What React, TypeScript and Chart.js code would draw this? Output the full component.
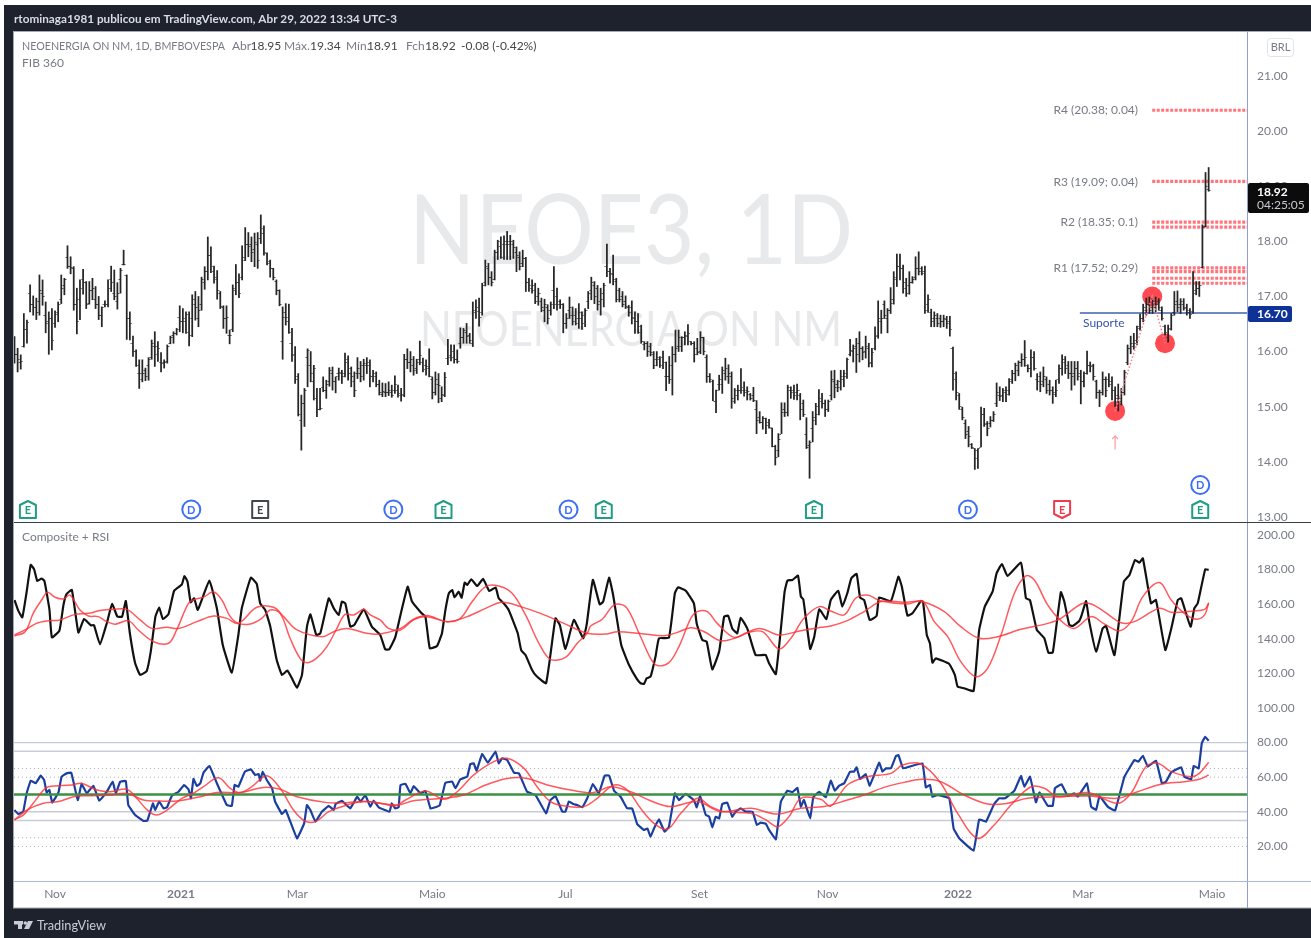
import React, { useEffect, useRef } from "react";
import { Chart, registerables } from "chart.js";

Chart.register(...registerables);

const barHigh = [
16.27,16.06,15.94,16.69,16.57,17.21,17.01,16.97,17.39,17.30,
16.90,16.72,16.78,16.74,16.90,17.39,17.33,17.92,17.72,17.54,
17.15,17.30,17.49,17.27,17.27,17.33,17.18,17.00,16.81,16.92,
17.30,17.55,17.48,17.25,17.51,17.84,17.39,16.72,16.28,16.03,
15.85,15.85,15.70,15.89,16.21,16.36,16.18,15.98,15.85,16.12,
16.28,16.36,16.42,16.83,16.78,16.72,16.72,17.03,17.09,17.00,
17.35,17.54,18.08,17.90,17.55,17.47,17.09,16.83,16.83,16.39,
17.21,17.58,17.41,17.92,18.25,18.16,18.08,18.15,18.16,18.48,
18.28,17.79,17.66,17.51,17.30,17.12,16.81,16.87,16.86,16.42,
16.09,15.60,15.21,15.33,16.05,16.00,15.75,15.33,15.33,15.54,
15.48,15.71,15.72,15.54,15.70,15.66,15.97,15.92,15.72,15.63,
15.89,15.82,15.86,15.89,15.85,15.66,15.63,15.48,15.43,15.42,
15.45,15.39,15.56,15.39,15.33,15.95,16.05,16.00,15.91,15.86,
16.19,15.88,15.85,16.05,15.54,15.63,15.60,15.36,15.62,16.22,
16.12,16.12,16.03,16.43,16.42,16.51,16.33,16.90,16.94,16.97,
17.24,17.66,17.60,17.45,17.84,18.02,18.08,18.10,18.18,18.11,
18.02,17.90,17.81,17.84,17.71,17.33,17.30,17.24,17.15,16.97,
16.95,16.85,16.90,17.54,17.15,16.94,16.87,16.69,16.99,16.81,
16.78,16.87,16.72,16.78,17.09,17.35,17.27,17.20,17.15,17.24,
17.95,17.51,17.75,17.33,17.15,17.09,17.01,16.84,
16.92,16.72,16.69,16.48,16.18,16.18,16.15,16.00,16.00,15.91,
16.01,15.81,15.91,16.09,16.39,16.39,16.27,16.36,16.49,16.18,
16.18,16.24,16.36,16.26,15.94,15.60,15.48,15.30,15.57,15.72,
15.88,15.76,15.63,15.33,15.39,15.69,15.45,15.36,15.24,15.35,
15.11,14.91,14.82,14.79,14.77,14.61,14.30,14.51,15.07,15.07,
15.39,15.36,15.39,15.41,15.24,15.12,14.80,14.38,14.91,15.06,
15.31,15.24,15.12,15.12,15.65,15.66,15.48,15.66,15.66,15.88,
16.22,16.12,16.24,16.36,16.09,16.28,16.15,16.06,16.45,16.92,
16.75,16.92,16.78,17.16,17.45,17.77,17.77,17.57,17.33,17.45,
17.36,17.72,17.81,17.54,17.55,17.03,16.77,16.72,16.69,
16.66,16.66,16.64,16.64,16.08,15.63,15.24,14.99,14.76,14.64,
14.33,14.24,14.24,14.99,14.97,14.73,14.82,14.91,15.43,15.36,
15.33,15.36,15.51,15.66,15.79,15.83,15.96,16.20,15.76,16.03,
16.00,15.60,15.63,15.72,15.54,15.48,15.36,15.48,15.76,15.94,
15.91,15.82,15.82,15.82,15.82,15.66,15.63,16.01,15.81,15.77,
15.48,15.30,15.63,15.54,15.60,15.54,15.36,15.41,15.33,15.66,
16.12,16.28,16.33,16.46,16.68,16.86,16.97,16.99,16.96,16.99,
16.96,16.81,16.48,16.48,16.69,17.09,17.10,16.96,16.96,16.86,
16.78,17.45,17.27,17.27,18.30,19.25,19.34,
];

const barLow = [
15.79,15.63,15.68,16.08,16.15,16.72,16.66,16.58,16.66,16.84,
16.34,15.95,16.03,16.44,16.54,16.87,17.03,17.51,17.41,16.75,
16.32,16.58,17.04,16.78,16.86,16.94,16.78,16.58,16.45,16.81,
16.81,17.09,16.94,16.77,17.06,17.57,16.22,16.21,15.91,15.73,
15.33,15.45,15.47,15.48,15.86,15.73,15.82,15.63,15.70,15.79,
16.14,16.15,16.30,16.36,16.34,16.33,16.10,16.27,16.57,16.45,
16.75,17.13,17.30,17.43,17.24,16.95,16.78,16.42,16.33,16.14,
16.36,17.03,16.98,17.30,17.65,17.72,17.63,17.54,17.51,17.96,
17.75,17.57,17.35,17.30,17.03,16.83,15.86,16.48,16.33,15.82,
15.42,14.83,14.21,14.64,15.36,15.45,15.12,14.82,14.94,15.27,
15.15,15.37,15.30,15.25,15.48,15.42,15.54,15.48,15.36,15.18,
15.51,15.45,15.48,15.60,15.36,15.45,15.36,15.21,15.18,15.18,
15.20,15.17,15.24,15.17,15.10,15.18,15.69,15.63,15.57,15.60,
15.76,15.63,15.57,15.54,15.14,15.21,15.07,15.09,15.18,15.76,
15.83,15.79,15.79,16.06,16.15,16.15,16.15,16.09,16.60,16.46,
16.66,17.19,17.21,17.19,17.30,17.67,17.69,17.67,17.67,17.67,
17.69,17.45,17.48,17.54,17.09,17.09,17.06,16.87,16.84,16.72,
16.54,16.50,16.66,16.78,16.75,16.78,16.34,16.42,16.60,16.48,
16.48,16.42,16.40,16.45,16.78,16.94,16.87,16.75,16.66,16.81,
17.36,17.24,17.21,16.90,16.90,16.81,16.78,16.64,
16.50,16.33,16.33,16.15,16.03,15.91,15.92,15.69,15.74,15.71,
15.69,15.29,15.42,15.21,15.81,16.00,16.00,16.12,16.12,16.12,
15.81,15.94,15.96,15.94,15.44,15.44,15.11,14.89,15.30,15.24,
15.48,15.42,14.97,15.06,15.12,15.24,15.19,15.12,15.12,15.09,
14.51,14.70,14.59,14.51,14.61,14.27,13.94,14.09,14.51,14.82,
14.83,15.15,15.13,15.12,14.76,14.82,14.24,13.70,14.36,14.67,
14.85,14.97,14.82,14.91,15.12,15.16,15.27,15.30,15.36,15.51,
15.92,15.81,15.62,15.81,15.85,15.88,15.72,15.72,16.03,16.24,
16.33,16.60,16.34,16.69,16.86,17.18,17.30,17.06,17.00,17.04,
17.24,17.30,17.39,17.39,16.69,16.71,16.45,16.45,16.45,
16.44,16.45,16.42,16.28,15.30,15.12,14.95,14.76,14.42,14.27,
14.24,13.86,13.88,14.27,14.64,14.47,14.63,14.73,15.00,15.11,
15.09,15.09,15.21,15.42,15.47,15.56,15.73,15.73,15.63,15.54,
15.66,15.30,15.27,15.36,15.24,15.21,15.06,15.18,15.42,15.57,
15.60,15.51,15.30,15.39,15.48,15.05,15.36,15.59,15.63,15.48,
15.15,15.00,15.21,15.18,15.36,15.12,15.00,14.92,15.03,15.21,
15.76,15.96,16.04,16.12,16.39,16.54,16.66,16.69,16.69,16.72,
16.75,16.57,16.30,16.17,16.39,16.66,16.72,16.69,16.75,16.66,
16.60,16.69,17.03,17.00,17.52,18.26,18.91,
];

const barOpen = [
16.00,15.95,15.80,16.10,16.40,17.05,16.85,16.80,16.90,17.05,
16.65,16.55,16.60,16.50,16.70,16.95,17.20,17.70,17.55,17.50,
16.85,16.95,17.30,17.25,16.87,17.10,16.95,16.85,16.65,16.85,
16.85,17.30,17.05,16.90,17.30,17.58,17.38,16.60,16.15,16.00,
15.60,15.50,15.65,15.75,15.90,16.10,16.10,15.80,15.80,15.82,
16.15,16.30,16.32,16.62,16.55,16.55,16.35,16.60,16.85,16.60,
16.85,17.25,17.45,17.75,17.45,17.30,17.05,16.80,16.60,16.30,
16.40,17.10,17.25,17.35,17.65,17.95,17.95,17.85,17.95,18.05,
18.15,17.78,17.64,17.50,17.28,17.10,16.18,16.70,16.55,16.15,
15.95,15.55,14.75,15.05,15.90,15.75,15.45,15.15,14.95,15.35,
15.30,15.45,15.60,15.45,15.60,15.60,15.60,15.85,15.70,15.45,
15.60,15.60,15.75,15.75,15.75,15.55,15.55,15.40,15.22,15.25,
15.25,15.25,15.30,15.30,15.20,15.20,15.85,15.80,15.75,15.70,
15.85,15.80,15.75,15.70,15.50,15.25,15.40,15.15,15.20,15.88,
15.92,16.00,15.85,16.15,16.25,16.35,16.30,16.15,16.70,16.72,
16.70,17.25,17.50,17.35,17.30,17.80,17.90,17.95,17.95,18.00,
17.95,17.80,17.70,17.60,17.68,17.25,17.15,17.10,17.00,16.90,
16.75,16.80,16.75,17.10,17.00,16.90,16.85,16.50,16.75,16.65,
16.65,16.60,16.60,16.65,16.90,17.10,17.20,17.15,16.90,17.05,
17.55,17.45,17.40,17.28,17.10,17.00,16.90,16.80,
16.80,16.60,16.55,16.45,16.12,16.15,16.10,15.95,15.85,15.85,
15.90,15.55,15.55,15.75,15.95,16.10,16.10,16.25,16.28,16.18,
16.15,16.05,16.00,16.25,15.90,15.55,15.45,15.10,15.40,15.40,
15.60,15.55,15.55,15.10,15.20,15.30,15.30,15.30,15.22,15.20,
14.95,14.80,14.72,14.78,14.72,14.60,14.28,14.20,14.50,14.95,
14.90,15.30,15.30,15.25,15.20,15.05,14.50,14.30,14.60,14.80,
15.00,15.10,15.05,14.95,15.20,15.45,15.40,15.45,15.50,15.55,
15.95,16.00,16.10,16.15,16.05,16.00,16.05,15.80,16.05,16.30,
16.55,16.85,16.60,16.75,16.95,17.30,17.55,17.50,17.15,17.20,
17.25,17.35,17.50,17.50,17.45,16.85,16.70,16.60,16.60,
16.60,16.55,16.58,16.55,16.05,15.50,15.20,14.95,14.70,14.55,
14.32,14.24,14.20,14.25,14.85,14.70,14.70,14.75,15.05,15.20,
15.20,15.25,15.30,15.50,15.60,15.65,15.80,15.85,15.75,15.70,
15.90,15.50,15.55,15.45,15.50,15.40,15.30,15.22,15.50,15.70,
15.80,15.75,15.60,15.60,15.70,15.60,15.45,15.60,15.75,15.75,
15.45,15.25,15.25,15.50,15.50,15.45,15.30,15.20,15.10,15.25,
15.80,16.05,16.10,16.20,16.42,16.60,16.75,16.85,16.80,16.80,
16.90,16.75,16.45,16.25,16.40,16.70,16.90,16.85,16.85,16.80,
16.70,16.72,17.10,17.15,17.52,18.27,18.95,
];

const barClose = [
15.95,15.85,15.82,16.40,16.52,16.85,16.80,16.70,17.10,17.00,
16.50,16.60,16.20,16.68,16.85,17.15,17.30,17.55,17.52,16.85,
16.55,17.15,17.25,16.85,17.10,17.15,16.85,16.65,16.80,16.85,
17.15,17.25,17.00,17.05,17.48,17.58,16.60,16.50,16.00,15.75,
15.60,15.60,15.55,15.85,16.15,15.95,16.05,15.78,15.80,16.10,
16.25,16.32,16.40,16.55,16.60,16.68,16.30,16.95,16.80,16.75,
17.30,17.45,17.75,17.55,17.35,17.10,16.82,16.60,16.62,16.30,
17.15,17.25,17.05,17.70,17.95,17.90,17.80,17.98,17.65,18.24,
17.80,17.60,17.50,17.35,17.10,16.85,16.62,16.62,16.34,15.92,
15.50,14.85,15.05,15.30,16.02,15.60,15.70,14.95,14.97,15.30,
15.40,15.65,15.45,15.55,15.62,15.55,15.80,15.60,15.55,15.30,
15.70,15.55,15.78,15.80,15.55,15.60,15.40,15.25,15.28,15.26,
15.30,15.20,15.40,15.24,15.22,15.85,15.80,15.85,15.65,15.80,
15.92,15.68,15.72,15.55,15.25,15.50,15.38,15.22,15.52,15.90,
15.90,15.85,15.82,16.25,16.38,16.28,16.20,16.75,16.80,16.62,
17.20,17.55,17.35,17.25,17.80,18.00,17.70,18.00,17.95,18.00,
17.88,17.75,17.55,17.68,17.25,17.20,17.20,16.90,17.05,16.80,
16.85,16.60,16.85,16.85,16.85,16.85,16.50,16.60,16.80,16.55,
16.50,16.70,16.50,16.75,17.05,17.25,17.00,16.85,16.95,17.20,
17.45,17.42,17.30,16.95,16.95,16.85,16.82,16.70,
16.62,16.55,16.35,16.18,16.15,16.00,15.98,15.75,15.90,15.75,
15.80,15.55,15.50,15.95,16.05,16.25,16.25,16.30,16.33,16.14,
15.95,15.98,16.25,16.00,15.55,15.50,15.10,15.30,15.50,15.65,
15.70,15.60,15.15,15.30,15.30,15.35,15.25,15.28,15.15,15.12,
14.75,14.72,14.78,14.65,14.63,14.28,14.08,14.40,14.90,14.90,
15.35,15.25,15.20,15.30,14.95,14.85,14.25,14.35,14.75,14.85,
15.15,15.05,14.95,15.10,15.50,15.35,15.35,15.55,15.60,15.85,
16.02,16.05,15.95,16.05,15.98,16.10,15.78,15.98,16.28,16.60,
16.60,16.65,16.75,16.88,17.35,17.55,17.50,17.25,17.05,17.25,
17.30,17.50,17.45,17.42,16.75,16.95,16.55,16.65,16.50,
16.55,16.60,16.50,16.40,15.60,15.25,15.00,14.80,14.50,14.45,
14.26,14.05,14.24,14.85,14.68,14.60,14.75,14.85,15.25,15.18,
15.30,15.22,15.45,15.60,15.75,15.80,15.85,15.90,15.70,15.90,
15.70,15.45,15.40,15.55,15.30,15.30,15.25,15.30,15.70,15.85,
15.70,15.60,15.55,15.70,15.55,15.45,15.60,15.75,15.72,15.55,
15.25,15.25,15.50,15.30,15.40,15.30,15.15,15.15,15.25,15.62,
16.05,16.15,16.15,16.45,16.60,16.80,16.85,16.75,16.90,16.85,
16.80,16.60,16.35,16.42,16.65,16.85,16.80,16.90,16.78,16.75,
16.68,17.05,17.15,17.20,18.25,19.00,18.92,
];

const compositeAt = [0,1.2,2.5,3.9,5.2,6.3,7.3,8.7,9.6,11.2,12,14.4,15.7,16.7,18.4,20.5,22.3,24.5,25.5,27.4,29.6,31.3,33,34.5,35.7,37,38.7,40.3,42.4,43.7,45.2,46.4,47.6,49.4,51.2,53.7,54.5,55.5,56.5,57.6,58.8,62.5,64.9,66.8,69.7,71.8,72.9,75.8,77.7,78.8,80.4,82,84.1,85.8,87.5,89,90.6,92.2,93.8,94.9,96.8,98.1,100.8,102.4,104,105,106.1,107.7,109,112,114.6,117.3,118.9,120.2,122.1,123.8,126.1,127.5,130.4,131.8,133.2,135.5,137.1,138.2,139.3,140.4,141.1,142.5,143.4,144.4,145.2,146.5,148.4,150.3,152.3,154.3,155.3,156.9,158.5,161.4,162.5,163.9,166,167.4,170.5,173.5,174.9,176.7,179.4,182.4,183.5,185.5,187.7,188.8,190.7,192,194.6,197.1,199.5,200.8,201.9,202.7,204,205.6,206.7,209.9,211.8,212.8,215.3,217.9,218.8,220.6,222,223.8,226,227.6,228.9,230.2,231.8,232.9,235,237.7,240.9,242,244.2,247,247.9,249.5,251.3,252.2,253,255.2,256.5,258.1,260.4,261.8,264.2,265.5,267.1,268.4,270.1,271.2,272.5,274.3,276.5,277.3,281.1,283.5,284.6,286.4,288,290.7,291.4,292.6,293.6,294.4,295.5,299.8,301.6,302.5,304.6,307.6,309.4,311.2,313.7,315,316.7,318.5,322.8,324.4,325.7,327.9,330.3,331.6,333,335.6,336.7,338.3,339.4,341.5,342.3,343.7,344.7,346.9,349,350.1,352.8,355.8,357.6,359.4,360.8,361.9,364.5,366.1,369.1,370.9,373.1,374.2,377.2,378.4,379.5,381.9,383];
const compositeValues = [162.4,156.3,152.4,167.2,182.7,180.1,173.4,174.8,173.4,157,140.8,144.7,159.5,165.9,168.2,143.6,151.4,147.8,147.8,136.8,149,160.1,152.8,152.8,161.8,143.2,125.8,119.1,121.4,132.6,152.8,158,151.4,154.3,167.8,171.5,176.3,173,161.1,163.4,156.7,173.6,157.6,136.4,120.4,142.2,157.6,175.3,171.7,160.5,156.7,147.4,127.7,119.1,121.6,117.1,111.7,119.1,147,154.1,142.2,143.2,163.4,157.6,153.8,161.5,160.5,147,148,157,147,142.2,133.9,133.9,140.8,153.8,170.1,161.5,155.1,152.8,134.5,135.8,143.2,156.6,166.3,168.2,164,167.2,163.8,172.5,171.1,174.4,170.5,174.6,167.6,169.7,163.4,160.5,156.6,143.2,133.5,130.6,122,118.5,114.3,151.8,148,134.1,150.9,140.3,148,174,159.9,161.5,175.3,165.3,136.4,124.8,117.1,114.3,113.9,117.1,118.1,129.7,140.3,140.6,166.3,169.7,167.8,160.5,148.9,139.3,138.3,122.3,132.6,152.8,153.3,146,143.2,152.2,146,130.6,130.6,125.8,119.6,167.2,173.6,174,176.5,164.4,162.8,134.1,141.2,157,151.4,162.4,167.8,158.6,166.3,175,177.5,163.8,162.4,150.9,153.2,163.8,161.8,175.9,170.1,153.4,154.7,161.8,161.4,142.2,137.4,126.2,128.7,125.4,119.1,112.3,111.4,109.8,145.1,158.6,167.2,177.9,183.2,176.3,184,163.4,162.4,145.1,140.3,132,132,166.9,161.5,148,147.4,150.3,153.8,161.8,149.9,132.6,146,147.4,130.6,173,176.9,185.6,184,186.5,160.5,162.4,133.5,145.1,162.4,163.4,147,157.6,160.5,180.2,179.8];

const compositeFastAt = [0,3.4,6,8.7,10.6,13,15.7,17.8,21,23.7,26.9,29.6,32.3,36.5,39.7,44.6,49.4,52,55.8,57.9,60.6,63.8,66.5,69.2,71.8,75.6,79.3,82,85.2,88.4,91.6,93.8,96.8,100.2,103.4,106,108.8,112,114.1,117.3,120,123.8,128,132.3,138.8,143,146.8,151.1,155.3,159.6,163.9,168.2,171.9,176.7,180.5,183.7,184.8,188.5,192.3,196,200.3,204,206.2,209.9,213.1,216.9,219,222.2,225.4,230.8,235,239.9,245.2,249,253.2,258.1,261.8,266.1,269.8,273.6,277.9,286.4,291.2,295,299.3,303.5,308.3,312.1,316.4,320.7,324.4,327.1,331.4,335.6,339.9,345.3,349.5,354.4,358.1,361.9,367.2,371,375.2,379,381.7,383];
const compositeFastValues = [141.6,144.1,154.7,162.4,166.9,164,163,165.3,156.6,153.2,152.8,149.9,148.4,150.5,145.1,138.3,137.4,145.1,160.5,162.8,164,167.2,162.4,152.8,148.9,148.6,151.8,156.6,154.7,140.3,128.7,126.2,128.7,135.5,146,154.1,153.8,157,153.8,150.9,146,145.1,150.9,152.8,149.9,151.8,161.5,170.1,170.5,166.3,153.8,137.4,128.1,129.3,137.4,143.2,147.4,151.3,159.5,158.6,143.2,128.7,124.5,126.2,135.5,151.8,155.7,155.7,148.9,140.8,143.5,144.1,134.1,140.3,151.8,158.6,156.1,153.8,163.4,165.3,161.8,160.1,161.8,149.9,141.2,126.8,118.1,122.9,142.2,166.3,176.3,174,159.5,150.5,146,152.8,148.6,144.7,149.9,164.4,172.5,162.4,154.7,151.3,153.8,160.9];
const compositeSlowAt = [0,3.4,7,10.3,14.6,19.4,23.7,27.4,31.7,36,40.3,44,48.8,52.6,58.5,63.8,68.1,71.8,77.7,83.1,86.3,90.6,98.6,102.4,106.6,113,117.3,123.8,128,132.3,138.8,145.2,151.1,156.4,162.3,168.7,176.2,183.7,190.1,193.3,201.9,208.3,212.6,216.9,221.2,226.5,231.8,238.8,245.2,252.2,258.6,261.8,267.1,272.5,277.9,285.3,291.2,298.2,303.5,309.4,315.3,322.8,331.4,335.6,342.1,345.3,349.5,354.9,359.2,367.2,371,378.4,381.7,383];
const compositeSlowValues = [142.2,145.1,148.9,150.3,150.9,154.1,154.7,156.3,157,157,150.9,146,146.6,146,149.9,153.2,151.8,148.9,158.2,158.2,152.8,145.1,141.2,144.1,146,143.2,142.8,146,151.3,153.4,149.9,152.8,157.6,161.1,158.6,154.7,148.9,143.2,142.8,144.1,142.8,141.8,143.7,146.4,144.1,138.9,140.8,146,142.2,144.7,146.6,147.4,150.5,155.7,161.5,161.1,161.4,155.7,147,140.3,141.2,145.5,148.9,151.8,160.1,160.1,155.7,149.3,149.9,157.6,155.3,156.1,157,160.5];

const rsiAt = [0,1.2,2.8,3.9,5.2,6.8,8.4,9.5,10.3,11.2,12.1,14.1,15.1,16.7,18.2,20.3,21.5,23.2,25.3,27.2,29.6,31.5,32.5,33.9,35.7,36.5,38.7,41.4,42.6,44.4,45.1,46.4,47.8,48.9,50.5,52.6,54.4,55.8,56.6,57.4,58.5,59.6,60.6,62.5,64.9,68.1,69.7,70.6,71.8,73.9,75.8,77.2,78.3,78.8,79.6,80.9,82.6,83.6,85.8,87,90.6,92.9,93.8,94.9,96.5,98.6,100.8,102.4,103,105,107.7,109.9,111,112.5,114.1,115.2,116.8,120.3,121,122.1,123.2,123.8,125.4,127,128,130.2,131.8,133.4,135,136.4,138.2,140.4,141.4,143,145.2,146.2,147.3,148.2,150,151.8,154.3,155.3,156.4,158,160.2,161.8,164.4,167.1,170.5,171.9,173.5,175.7,176.7,177.8,179.2,180.5,182.1,183.7,185.5,187.4,189.3,190.7,192.3,194.4,196.5,198.1,199.7,201.9,203,204,205.1,206.7,208.5,209.9,211.8,213.1,215.3,217.9,218.8,219.9,221.7,222.8,223.8,224.9,226,227,228.6,230.2,231.3,232.9,234.5,236.7,238.1,239.3,241,242,244.2,245.8,247.9,249.5,251.1,252.2,253.2,255.2,256.2,258.1,260.2,261.8,263.1,264.5,266.1,268,269.3,270.1,271.2,273,274.3,277.3,278.4,279.5,281.1,282.7,283.5,285,287,291.2,292.3,293.6,294.4,296,299.8,301.2,303,307.6,309.4,311.6,314.2,315.8,317.7,320.7,322.8,323.9,325.7,327.6,328.7,331.4,333,333.7,335.8,337.8,339.9,341,344,345.3,346.9,348,350.6,353,356,359.2,360.5,361.9,363.5,366.1,368,369.3,371,374.2,375.2,377.4,378.2,379.8,380.8,381.9,383];
const rsiValues = [41,38.7,40.1,50.7,58,56.5,60.9,58.4,51.2,52.6,45.3,51.2,60.3,62.2,62.6,46.8,56.1,50.7,55.1,46.4,51.6,57.4,50.7,57.4,57.8,43.9,38.1,34.7,34.9,44.9,41,45.9,42,42.6,49.3,51.6,55.5,53,47.8,59,54.9,56.5,62.6,66.5,56.5,43.9,43.4,55.5,54.5,63.2,64.5,61.3,61.8,58,63.2,58.4,53.6,45.8,38.7,41,24.7,33.3,43.9,41,34.3,40.1,43.4,41,44.5,46.4,42,48.7,45.9,49.7,43,46.4,42.6,40.1,44.9,42,42.6,55.5,56.1,50.7,54.9,50.7,52,42,42.6,43.9,56.8,57.4,53.6,58.8,60.3,67.6,68,63.8,73.4,68.4,74.8,68,70.9,70,62.6,62.2,51.6,49.7,39.1,46.8,49.1,40.1,40.1,45.9,44.5,43.9,42.6,47.8,56.1,50.7,60.9,60.9,52.2,48.7,42,42,33,29.5,30.4,25.6,30.4,35.6,28.5,31.4,50.7,46.8,50.3,46.8,42.6,49.1,38.2,37.2,31,37.2,36.2,44.5,45.3,37.2,40.1,42,40.1,40.1,32.4,33.7,33,29.5,24.1,45.9,52.2,51.3,53.8,43,46.8,36.2,48.4,51.6,48.4,58,52.2,55.1,56.5,63.2,63.2,65.7,58.9,61.8,55.1,68.4,63.2,65.1,65.1,72.2,72.8,65.1,66.1,68,54.1,55.5,48.7,49.7,47.8,30.4,24.7,17.5,35.6,34.3,44.5,47.8,47.8,52.2,60.7,54.5,60.3,45.5,51.2,43.5,43.5,53.6,55.9,49.1,50.7,48.7,56.4,43,41.1,49.1,43,40.7,60.3,69.9,69,72.4,66.1,69.6,56.5,57.4,62.8,65.7,60.3,58.8,66.5,65.1,79.6,83.4,81.1];

const rsiFastAt = [0,2.8,6,9.3,10.9,18.4,21.5,26.4,30.7,36,39.2,42.6,45.6,48.9,53.7,57.4,60.6,65.4,69.2,72.4,76.1,80.9,85.2,89.5,92.9,96.5,100.8,106.6,112,118.4,122.1,125.4,131.8,137.7,142,147.3,153.7,158,163.4,167.6,171.9,176.7,182.6,186.9,192.3,196.5,200.8,205.1,209.4,213.7,219,223.3,227.6,236.1,241,244.7,248.4,252.2,258.6,261.8,267.1,273.6,281.1,284.8,290.7,297.1,302.5,308.9,314.2,319.6,326,330.3,334.6,344.2,353.8,358.1,362.9,366.7,371,377.4,380,383];
const rsiFastValues = [35.6,38.1,44.9,52.6,54.5,55.5,56.5,52.6,51.6,53,47.8,41,38.1,41,47.8,50.7,54.5,59.7,53.6,51.1,54.5,60.9,53.6,41,34.9,34.3,40.1,43.9,45.9,44.5,43.4,46.8,52,47.2,51.6,61.3,69,70.9,65.1,54.5,45.9,43.3,43,47.8,55.5,52.6,42,33.3,29.9,39.1,47.8,43,40.1,39.1,35.3,31.4,37.2,47.8,47.2,43.3,55.5,60.3,62.2,67,67.6,56.5,39.1,24.7,32.4,43.9,54.5,53.6,48.7,51.1,44.9,50.7,66.1,68,63.2,60.3,62.2,68.6];
const rsiSlowAt = [0,3.9,9.3,14.1,18.9,23.2,30.7,36,41.4,46.7,52,59.6,64.9,72.4,79.9,85.2,90.6,100.2,106.6,113,122.7,128,137.7,144.1,151.1,158,164.4,170.9,178.3,185.8,191.2,197.6,204,210.4,219,226.5,236.1,244.7,252.2,259.7,267.1,272.5,278.9,285.3,291.2,297.1,304.6,312.1,318.5,324.9,334.6,344.2,353.8,360.2,367.7,375.2,380,383];
const rsiSlowValues = [35.2,41,44.9,45.9,48.7,49.3,49.7,50.7,46.8,46.2,46.2,48.7,51.2,51.1,54.1,53,48.7,45.3,45.3,45.9,43.9,46.4,47.8,49.7,55.5,59.3,59.3,55.5,52.6,51.1,54.5,51.6,46.4,43,45.9,40.1,42,38.7,42,43,46.8,49.7,54.1,57,58.8,57.4,49.7,44.5,44.9,47.8,48.7,49.1,47.8,51.6,55.9,57.4,58.8,61.3];

const rsiSolidLevels = [80, 75, 40, 35];
const rsiDottedLevels = [65, 60, 25, 20];
const rsiMidLevel = [50];
const fibLevels = [20.38, 19.09, 18.35, 18.26, 17.52, 17.45, 17.33, 17.24];
const fibLabels = ["R4 (20.38; 0.04)", "R3 (19.09; 0.04)", "R2 (18.35; 0.1)", "R1 (17.52; 0.29)"];
const fibLabelPrices = [20.4, 19.1, 18.37, 17.53];
const pivotAt = [353, 364.9, 369];
const pivotPrices = [14.92, 17.0, 16.15];
const supportPrice = [16.7];
const priceTicks = [13, 14, 15, 16, 17, 18, 19, 20, 21];
const compositeTicks = [20, 40, 60, 80, 100, 120, 140, 160, 180, 200];
const monthAt = [13, 53.4, 90.7, 134, 176.7, 219.7, 260.8, 302.6, 342.7, 384.1];
const monthLabels = ["Nov", "2021", "Mar", "Maio", "Jul", "Set", "Nov", "2022", "Mar", "Maio"];
const eventAt = [4.3, 56.7, 78.8, 121.5, 137.6, 177.7, 189, 256.4, 305.8, 336, 380.3, 380.3];
const eventKinds = ["eg", "d", "ek", "d", "eg", "d", "eg", "eg", "d", "er", "d2", "eg"];

const F = 'Lato, "Open Sans", sans-serif';
const GRAY = "#787b86";
const DARK = "#1e222d";
const X_MIN = -0.16;
const X_MAX = 395.3;

const pts = (xs: number[], ys: number[]) => xs.map((x, i) => ({ x, y: ys[i] }));

const line = (data: any[], yAxisID: string, color: string, width: number, order: number, extra: any = {}) => ({
  type: "line",
  data,
  yAxisID,
  xAxisID: "x",
  borderColor: color,
  backgroundColor: color,
  borderWidth: width,
  pointRadius: 0,
  order,
  fill: false,
  ...extra,
});

function tickImage(left: boolean) {
  const c = document.createElement("canvas");
  c.width = 5;
  c.height = 1;
  const g = c.getContext("2d")!;
  g.fillStyle = "rgba(30,30,30,0.75)";
  g.fillRect(left ? 0.5 : 3, 0, 1.5, 1);
  return c;
}

function text(ctx: any, s: string, x: number, y: number, color: string, font: string, align = "left", maxW?: number) {
  ctx.fillStyle = color;
  ctx.font = font;
  ctx.textAlign = align;
  ctx.textBaseline = "middle";
  if (maxW) ctx.fillText(s, x, y, maxW);
  else ctx.fillText(s, x, y);
}

function roundBox(ctx: any, x: number, y: number, w: number, h: number, r: number) {
  ctx.beginPath();
  ctx.roundRect(x, y, w, h, r);
}

function drawEvent(ctx: any, x: number, kind: string) {
  const bottom = kind === "d2" ? 485 : 509.5;
  ctx.save();
  ctx.lineWidth = 2;
  ctx.lineJoin = "round";
  if (kind === "d" || kind === "d2") {
    ctx.strokeStyle = "#3d6ef5";
    ctx.beginPath();
    ctx.arc(x, bottom, 9, 0, Math.PI * 2);
    ctx.fillStyle = "#fff";
    ctx.fill();
    ctx.stroke();
    text(ctx, "D", x, bottom + 0.5, "#3d6ef5", `bold 11px ${F}`, "center");
  } else {
    const color = kind === "eg" ? "#1f9d85" : kind === "er" ? "#ef3b4d" : "#434651";
    ctx.strokeStyle = color;
    ctx.fillStyle = "#fff";
    ctx.beginPath();
    if (kind === "eg") {
      ctx.moveTo(x - 8, 518);
      ctx.lineTo(x + 8, 518);
      ctx.lineTo(x + 8, 505);
      ctx.lineTo(x, 501);
      ctx.lineTo(x - 8, 505);
    } else if (kind === "er") {
      ctx.moveTo(x - 8, 501);
      ctx.lineTo(x + 8, 501);
      ctx.lineTo(x + 8, 514);
      ctx.lineTo(x, 518);
      ctx.lineTo(x - 8, 514);
    } else {
      ctx.rect(x - 8, 501, 16, 17);
    }
    ctx.closePath();
    ctx.fill();
    ctx.stroke();
    text(ctx, "E", x, 510, color, `bold 11px ${F}`, "center");
  }
  ctx.restore();
}

const framePlugin = {
  id: "frame",
  beforeDraw(chart: any) {
    const { ctx } = chart;
    ctx.save();
    ctx.fillStyle = "#fff";
    ctx.fillRect(0, 0, 1311, 938);
    ctx.fillStyle = DARK;
    ctx.fillRect(4, 5, 1307, 933);
    ctx.fillStyle = "#fff";
    ctx.fillRect(14, 32, 1297, 876);
    ctx.fillStyle = "#a6a9b2";
    ctx.fillRect(13, 31, 1298, 1);
    ctx.fillRect(13, 31, 1, 877);
    ctx.fillRect(13, 907.5, 1298, 1);
    ctx.restore();
  },
  beforeDatasetsDraw(chart: any) {
    const { ctx } = chart;
    ctx.save();
    text(ctx, "NEOE3, 1D", 631, 233, "#e8e9eb", `96px ${F}`, "center", 444);
    text(ctx, "NEOENERGIA ON NM", 631, 331, "#e8e9eb", `48px ${F}`, "center", 422);
    ctx.restore();
  },
  afterDatasetsDraw(chart: any) {
    const { ctx, scales } = chart;
    const xs = scales.x;
    const yp = scales.yPrice;
    ctx.save();

    ctx.fillStyle = "#8fa0cf";
    ctx.fillRect(1247, 32, 1, 876);
    ctx.fillStyle = "#aab7dc";
    ctx.fillRect(14, 881, 1297, 1);
    ctx.fillStyle = "#3a3e4a";
    ctx.fillRect(14, 522, 1297, 1);

    text(ctx, "rtominaga1981 publicou em TradingView.com, Abr 29, 2022 13:34 UTC-3", 14, 19.5, "#d9dce4", `bold 12px ${F}`, "left", 383);
    const y = 46;
    const f = `12px ${F}`;
    const seg: [string, number, string, number?][] = [
      ["NEOENERGIA ON NM, 1D, BMFBOVESPA", 22, GRAY, 203],
      ["Abr", 232, GRAY],
      ["18.95", 250.5, "#444"],
      ["Máx.", 284, GRAY],
      ["19.34", 310, "#444"],
      ["Mín.", 346, GRAY],
      ["18.91", 367, "#444"],
      ["Fch", 406, GRAY],
      ["18.92", 425, "#444"],
      ["-0.08 (-0.42%)", 461, "#444", 78],
    ];
    seg.forEach(([s, x, c, w]) => text(ctx, s, x, y, c, f, "left", w));
    text(ctx, "FIB 360", 22, 63, GRAY, f);
    text(ctx, "Composite + RSI", 22, 537, GRAY, f);

    const labelX = 1138;
    fibLabels.forEach((s, i) => text(ctx, s, labelX, yp.getPixelForValue(fibLabelPrices[i]) + 1, GRAY, f, "right"));
    text(ctx, "Suporte", 1083, 323, "#3454a8", f);

    const ax = xs.getPixelForValue(pivotAt[0]);
    ctx.strokeStyle = "#ff9aa0";
    ctx.lineWidth = 1.2;
    ctx.beginPath();
    ctx.moveTo(ax, yp.getPixelForValue(14.22));
    ctx.lineTo(ax, yp.getPixelForValue(14.47));
    ctx.moveTo(ax - 3, yp.getPixelForValue(14.41));
    ctx.lineTo(ax, yp.getPixelForValue(14.47));
    ctx.lineTo(ax + 3, yp.getPixelForValue(14.41));
    ctx.stroke();

    eventAt.forEach((v, i) => drawEvent(ctx, xs.getPixelForValue(v), eventKinds[i]));

    ctx.fillStyle = "#0c0c0c";
    roundBox(ctx, 1248, 183, 61, 30, 2);
    ctx.fill();
    text(ctx, "18.92", 1257, 192, "#fff", `bold 12px ${F}`);
    text(ctx, "04:25:05", 1257, 205, "#c8cad0", f);
    ctx.fillStyle = "#0e3296";
    roundBox(ctx, 1248, 306, 44, 16, 2);
    ctx.fill();
    text(ctx, "16.70", 1257, 314, "#fff", `bold 12px ${F}`);
    ctx.strokeStyle = "#e0e3eb";
    ctx.lineWidth = 1;
    roundBox(ctx, 1267.5, 38.5, 26, 18, 3);
    ctx.stroke();
    text(ctx, "BRL", 1280.5, 47.5, GRAY, `11px ${F}`, "center");

    ctx.fillStyle = "#c8ccd6";
    ctx.fillRect(14, 921, 9, 3.5);
    ctx.fillRect(18, 921, 4, 8);
    ctx.beginPath();
    ctx.arc(25.3, 923, 1.8, 0, Math.PI * 2);
    ctx.fill();
    ctx.beginPath();
    ctx.moveTo(28, 921);
    ctx.lineTo(33, 921);
    ctx.lineTo(29, 929);
    ctx.lineTo(24, 929);
    ctx.closePath();
    ctx.fill();
    text(ctx, "TradingView", 37, 925.5, "#c8ccd6", `13px ${F}`, "left", 69);
    ctx.restore();
  },
};

export default function App() {
  const ref = useRef<HTMLCanvasElement>(null);

  useEffect(() => {
    const canvas = ref.current!;
    const leftTick = tickImage(true);
    const rightTick = tickImage(false);
    const RED = "rgba(255,48,54,0.8)";
    const datasets: any[] = [
      {
        type: "bar",
        data: barHigh.map((h, i) => ({ x: i, y: [barLow[i], h] })),
        yAxisID: "yPrice",
        xAxisID: "x",
        backgroundColor: "#262626",
        barThickness: 1.1,
        grouped: false,
        order: 2,
      },
      line(pts(barOpen.map((_, i) => i), barOpen), "yPrice", "#222", 0, 1, { showLine: false, pointRadius: 3, pointStyle: leftTick }),
      line(pts(barClose.map((_, i) => i), barClose), "yPrice", "#222", 0, 1, { showLine: false, pointRadius: 3, pointStyle: rightTick }),
      line(pts(pivotAt, pivotPrices), "yPrice", "#ff7f88", 1.5, 0, { borderDash: [1.5, 2] }),
      line(pts(pivotAt, pivotPrices), "yPrice", "#ff4a52", 0, 4, { showLine: false, pointRadius: 10, pointBackgroundColor: "#ff4a52", pointBorderWidth: 0 }),
      line(pts([341.7, X_MAX], [supportPrice[0], supportPrice[0]]), "yPrice", "#3f5fae", 1.4, 3),
      ...fibLevels.map((v) =>
        line(pts([pivotAt[1], X_MAX], [v, v]), "yPrice", "rgba(255,64,74,0.72)", 3.2, 6, { borderDash: [3, 1.5] })
      ),
      ...rsiSolidLevels.map((v) => line(pts([X_MIN, X_MAX], [v, v]), "yComposite", "#c9cbd6", 1.4, 9)),
      ...rsiDottedLevels.map((v) => line(pts([X_MIN, X_MAX], [v, v]), "yComposite", "#aeb0b6", 1, 9, { borderDash: [1, 3] })),
      line(pts([X_MIN, X_MAX], [rsiMidLevel[0], rsiMidLevel[0]]), "yComposite", "#3b9143", 2.4, 2),
      line(pts(compositeFastAt, compositeFastValues), "yComposite", RED, 1.5, 3, { tension: 0.35 }),
      line(pts(compositeSlowAt, compositeSlowValues), "yComposite", RED, 1.5, 3, { tension: 0.35 }),
      line(pts(compositeAt, compositeValues), "yComposite", "#111", 2.2, 4, { tension: 0.12 }),
      line(pts(rsiFastAt, rsiFastValues), "yComposite", RED, 1.5, 1, { tension: 0.35 }),
      line(pts(rsiSlowAt, rsiSlowValues), "yComposite", RED, 1.5, 1, { tension: 0.35 }),
      line(pts(rsiAt, rsiValues), "yComposite", "#1a3f9f", 2.2, 3, { tension: 0.08 }),
    ];

    const chart = new Chart(canvas, {
      type: "bar",
      data: { datasets },
      plugins: [framePlugin],
      options: {
        responsive: false,
        animation: false,
        events: [],
        layout: { padding: { left: 14, top: 32, right: 0, bottom: 30 } },
        plugins: { legend: { display: false }, tooltip: { enabled: false } },
        scales: {
          x: {
            type: "linear",
            min: X_MIN,
            max: X_MAX,
            offset: false,
            grid: { display: false, drawTicks: false },
            border: { display: false },
            afterFit(s: any) {
              s.height = 27;
            },
            afterBuildTicks(s: any) {
              s.ticks = monthAt.map((value) => ({ value }));
            },
            ticks: {
              autoSkip: false,
              maxRotation: 0,
              padding: 6,
              color: GRAY,
              font: (c: any) => ({
                family: F,
                size: 12,
                weight: /^\d+$/.test(monthLabels[monthAt.indexOf(c.tick?.value)] || "") ? "bold" : "normal",
              }),
              callback: (v: any) => monthLabels[monthAt.indexOf(v)],
            },
          },
          yPrice: {
            type: "linear",
            position: "right",
            stack: "panes",
            stackWeight: 490,
            weight: 1,
            min: 12.906,
            max: 21.8,
            grid: { display: false, drawTicks: false },
            border: { display: false },
            afterFit(s: any) {
              s.width = 64;
            },
            afterBuildTicks(s: any) {
              s.ticks = priceTicks.map((value) => ({ value }));
            },
            ticks: { autoSkip: false, padding: 10, color: GRAY, font: { family: F, size: 12 }, callback: (v: any) => Number(v).toFixed(2) },
          },
          yComposite: {
            type: "linear",
            position: "right",
            stack: "panes",
            stackWeight: 359,
            weight: 2,
            min: 0,
            max: 207.5,
            grid: { display: false, drawTicks: false },
            border: { display: false },
            afterFit(s: any) {
              s.width = 64;
            },
            afterBuildTicks(s: any) {
              s.ticks = compositeTicks.map((value) => ({ value }));
            },
            ticks: { autoSkip: false, padding: 10, color: GRAY, font: { family: F, size: 12 }, callback: (v: any) => Number(v).toFixed(2) },
          },
        },
      } as any,
    } as any);
    return () => chart.destroy();
  }, []);

  return (
    <div style={{ position: "fixed", left: 0, top: 0, width: 1311, height: 938, background: "#fff" }}>
      <canvas ref={ref} width={1311} height={938} style={{ display: "block", filter: "blur(0.3px)" }} />
    </div>
  );
}
